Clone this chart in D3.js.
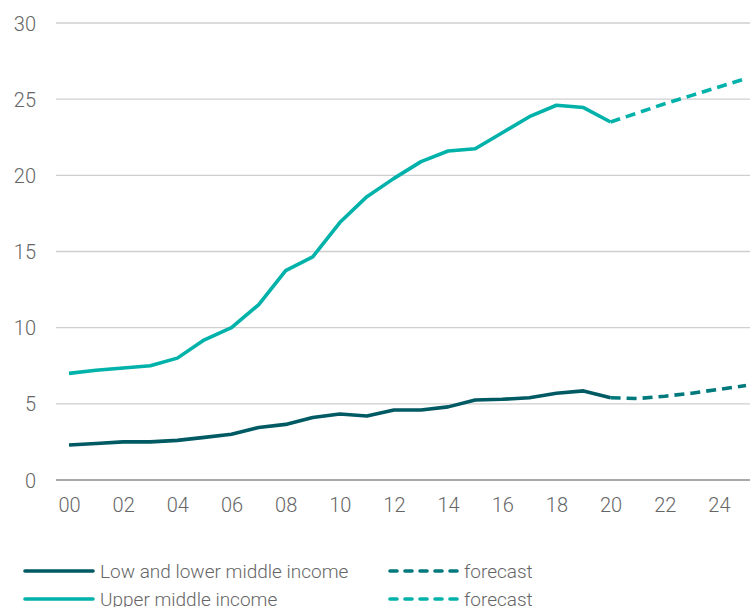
<!DOCTYPE html>
<html><head><meta charset="utf-8">
<script src="https://cdn.jsdelivr.net/npm/d3@7"></script>
<style>
body{margin:0;background:#fff;}
text{font-family:Roboto,"Liberation Sans",Arial,sans-serif;font-weight:300;fill:#666;}
</style></head>
<body><svg id="c" width="750" height="607"></svg>
<script>
const years = d3.range(2000, 2021);
const forecastYears = [2020, 2021, 2022, 2023, 2024, 2025];
const lowIncome = [2.3, 2.4, 2.5, 2.5, 2.6, 2.8, 3.0, 3.45, 3.65, 4.1, 4.33, 4.2, 4.6, 4.6, 4.8, 5.25, 5.3, 5.4, 5.7, 5.85, 5.4];
const lowForecast = [5.4, 5.35, 5.5, 5.7, 5.95, 6.2];
const upperIncome = [7.0, 7.2, 7.35, 7.5, 8.0, 9.2, 10.0, 11.5, 13.75, 14.65, 16.9, 18.6, 19.8, 20.9, 21.6, 21.75, 22.8, 23.85, 24.6, 24.45, 23.5];
const upperForecast = [23.5, 24.1, 24.7, 25.25, 25.8, 26.35];
const yTicks = [0, 5, 10, 15, 20, 25, 30];
const xTicks = [2000, 2002, 2004, 2006, 2008, 2010, 2012, 2014, 2016, 2018, 2020, 2022, 2024];
const legendItems = [
  {label: "Low and lower middle income", color: "#005a63", fcolor: "#00797d"},
  {label: "Upper middle income", color: "#00b2a9", fcolor: "#00b2a9"}
];

const svg = d3.select("#c");
const x = d3.scaleLinear().domain([2000, 2025]).range([69, 746]);
const y = d3.scaleLinear().domain([0, 30]).range([480, 23]);

svg.append("g").selectAll("line").data(yTicks).join("line")
  .attr("x1", 56).attr("x2", 750)
  .attr("y1", d => y(d)).attr("y2", d => y(d))
  .attr("stroke", d => d === 0 ? "#a8a8a8" : "#cfcfcf")
  .attr("stroke-width", d => d === 0 ? 2 : 1.3);

const yAxis = d3.axisLeft(y).tickValues(yTicks).tickSize(0).tickPadding(0);
const gy = svg.append("g").attr("transform", "translate(36,0)").call(yAxis);
gy.select(".domain").remove();
gy.selectAll("text").style("font-size", "20px").style("font-family", "Roboto, sans-serif").style("font-weight", 300).attr("fill", "#666").attr("dy", "0.35em");

const xAxis = d3.axisBottom(x).tickValues(xTicks).tickSize(0).tickPadding(0)
  .tickFormat(d => String(d % 100).padStart(2, "0"));
const gx = svg.append("g").attr("transform", "translate(0,498)").call(xAxis);
gx.select(".domain").remove();
gx.selectAll("text").style("font-size", "20px").style("font-family", "Roboto, sans-serif").style("font-weight", 300).attr("fill", "#666").attr("dy", "0.71em");

const line = d3.line().x(d => x(d[0])).y(d => y(d[1]));
function draw(xs, vs, color, dashed) {
  svg.append("path").datum(xs.map((t, i) => [t, vs[i]]))
    .attr("d", line).attr("fill", "none").attr("stroke", color)
    .attr("stroke-width", 3.6).attr("stroke-linejoin", "round")
    .attr("stroke-dasharray", dashed ? "10,6" : null);
}
draw(years, lowIncome, "#005a63", false);
draw(forecastYears, lowForecast, "#00797d", true);
draw(years, upperIncome, "#00b2a9", false);
draw(forecastYears, upperForecast, "#00b2a9", true);

const lg = svg.append("g");
legendItems.forEach((it, i) => {
  const ly = 571 + i * 28;
  lg.append("line").attr("x1", 25).attr("x2", 93).attr("y1", ly).attr("y2", ly)
    .attr("stroke", it.color).attr("stroke-width", 3.6).attr("stroke-linecap", "round");
  lg.append("text").attr("x", 100).attr("y", ly).attr("dy", "0.35em")
    .style("font-size", "19px").attr("fill", "#666").text(it.label);
  lg.append("line").attr("x1", 390).attr("x2", 458).attr("y1", ly).attr("y2", ly)
    .attr("stroke", it.fcolor).attr("stroke-width", 3.6).attr("stroke-linecap", "round")
    .attr("stroke-dasharray", "7,8");
  lg.append("text").attr("x", 464).attr("y", ly).attr("dy", "0.35em")
    .style("font-size", "19px").attr("fill", "#666").text("forecast");
});
</script></body></html>
